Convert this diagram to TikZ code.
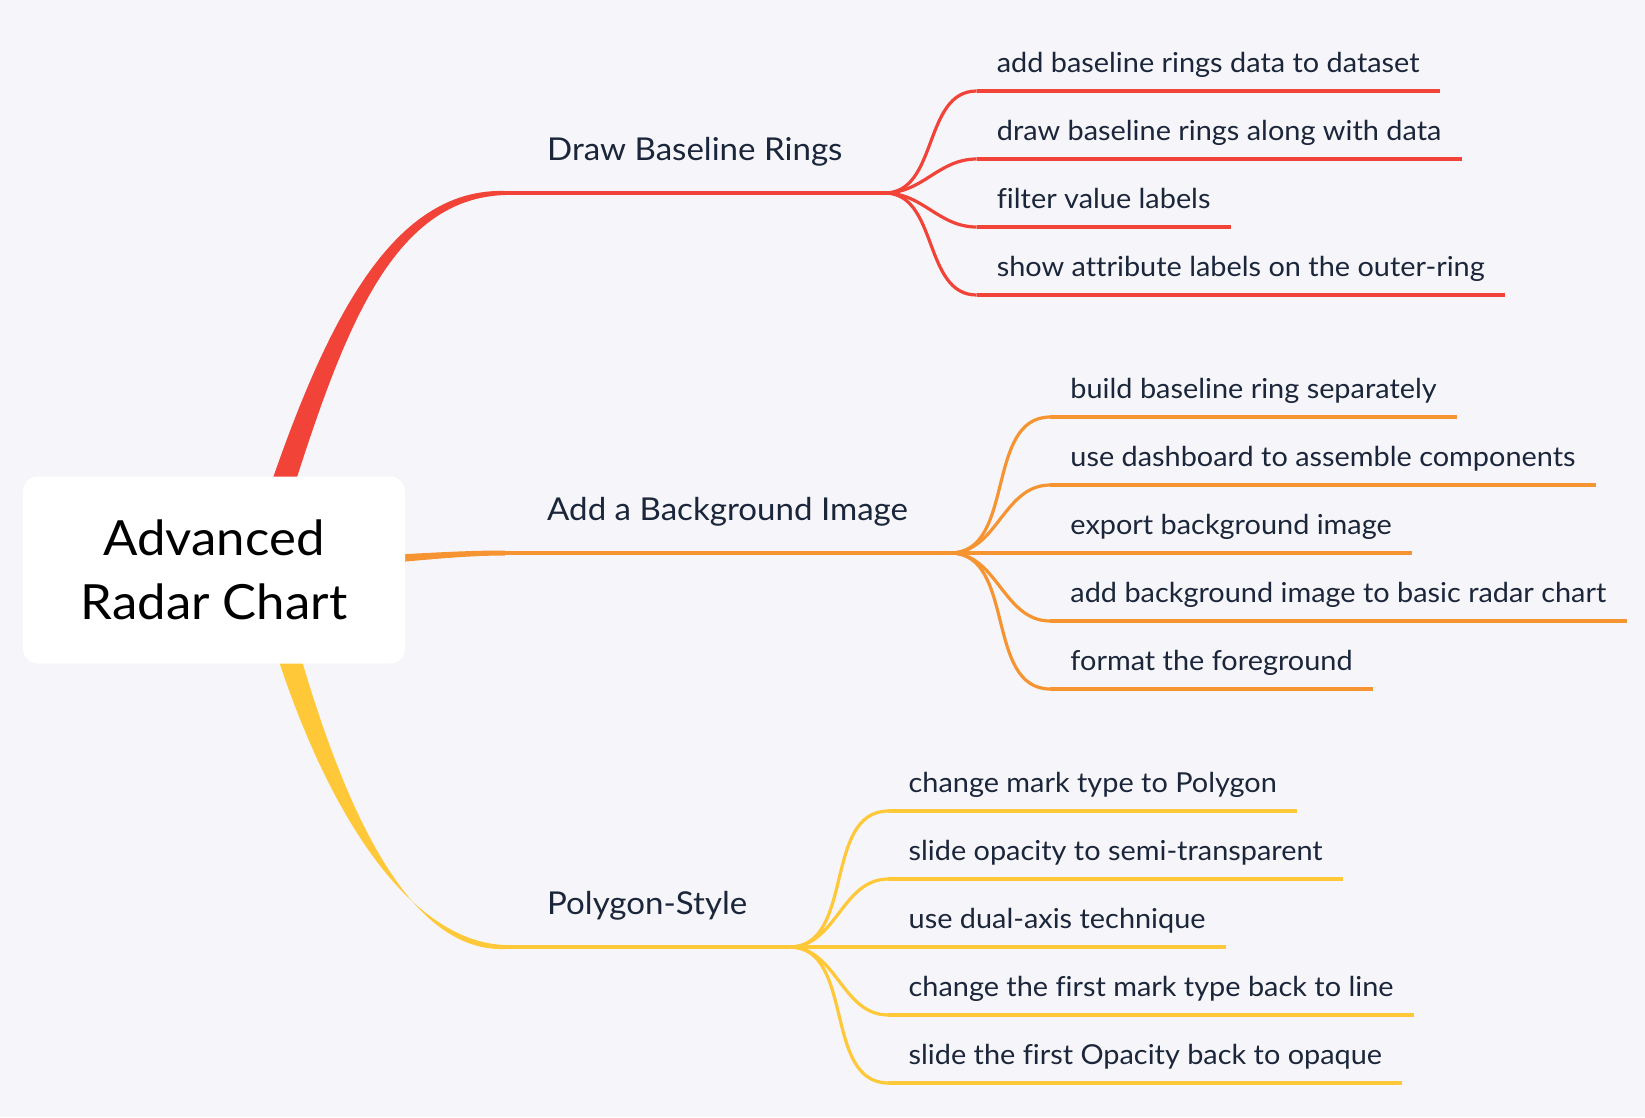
\documentclass[tikz,border=0pt]{standalone}
\usepackage{fontspec}
\setmainfont{Lato}[FakeStretch=1.05, Ligatures=NoCommon]
\usepackage{tikz}
\usetikzlibrary{positioning, calc}

\definecolor{paper}{HTML}{F6F6FA}
\definecolor{ink}{HTML}{1B263B}
\definecolor{redB}{HTML}{F14338}
\definecolor{orangeB}{HTML}{F79432}
\definecolor{yellowB}{HTML}{FFC838}

\begin{document}
\begin{tikzpicture}[x=1pt, y=-1pt]
	\tikzstyle{root} = [fill=white, rounded corners=15pt, minimum width=382pt, minimum height=187pt, align=center, text=black, font={\fontsize{48.5}{64}\selectfont}];
	\tikzstyle{branch} = [anchor=south west, inner xsep=42pt, inner ysep=0pt, text depth=32pt, text=ink, font={\fontsize{31.5}{36}\selectfont}];
	\tikzstyle{leaf} = [anchor=south west, inner xsep=20pt, inner ysep=0pt, text depth=18pt, text=ink, font={\fontsize{27.5}{30}\selectfont}];
	\tikzstyle{twig} = [line width=3.2pt];

	\fill[paper] (0,0) rectangle (1645,1117);
	\useasboundingbox (0,0) rectangle (1645,1117);

	% main branches
	\node[branch] (b1) at (505,193) {Draw Baseline Rings};
	\node[branch] (b2) at (505,553) {Add a Background Image};
	\node[branch] (b3) at (505,947) {Polygon-Style};
	\draw[twig, redB] (b1.south west) -- (b1.south east);
	\draw[twig, orangeB] (b2.south west) -- (b2.south east);
	\draw[twig, yellowB] (b3.south west) -- (b3.south east);

	% tapered stems from the root
	\coordinate (r0) at (255,570);
	\coordinate (r1) at (319,370);
	\coordinate (r2) at (375,193);
	\fill[redB] ($(r0)+(-11.4,-3.6)$) .. controls ($(r1)+(-11.4,-3.6)$) and ($(r2)+(0,-6)$) .. ($(b1.south west)+(0,-2)$)
		-- ($(b1.south west)+(0,2)$) .. controls ($(r2)+(0,6)$) and ($(r1)+(11.4,3.6)$) .. ($(r0)+(11.4,3.6)$) -- cycle;

	\coordinate (o0) at (260,566);
	\coordinate (o1) at (380,562);
	\coordinate (o2) at (440,553);
	\fill[orangeB] ($(o0)+(0,-5)$) .. controls ($(o1)+(0,-5)$) and ($(o2)+(0,-2.5)$) .. ($(b2.south west)+(0,-2.5)$)
		-- ($(b2.south west)+(0,2.5)$) .. controls ($(o2)+(0,2.5)$) and ($(o1)+(0,5)$) .. ($(o0)+(0,5)$) -- cycle;

	\coordinate (y0) at (265,570);
	\coordinate (y1) at (315,770);
	\coordinate (y2) at (395,947);
	\fill[yellowB] ($(y0)+(-11.6,2.9)$) .. controls ($(y1)+(-11.6,2.9)$) and ($(y2)+(0,-6)$) .. ($(b3.south west)+(0,-2)$)
		-- ($(b3.south west)+(0,2)$) .. controls ($(y2)+(0,6)$) and ($(y1)+(11.6,-2.9)$) .. ($(y0)+(11.6,-2.9)$) -- cycle;

	\node[root] (root) at (214,570) {Advanced\\Radar Chart};

	% leaves
	\def \redleaves {add baseline rings data to dataset, draw baseline rings along with data, filter value labels, show attribute labels on the outer-ring}
	\def \orangeleaves {build baseline ring separately, use dashboard to assemble components, export background image, add background image to basic radar chart, format the foreground}
	\def \yellowleaves {change mark type to Polygon, slide opacity to semi-transparent, use dual-axis technique, change the first mark type back to line, slide the first Opacity back to opaque}

	\foreach \x [count=\xi] in \redleaves {
		\node[leaf] (r\xi) at ($(b1.south east)+(92,{68*\xi-170})$) {\x};
		\draw[twig, redB] (r\xi.south west) -- (r\xi.south east);
		\draw[twig, redB] (b1.south east) to[out=0, in=180] (r\xi.south west);
	}

	\foreach \x [count=\xi] in \orangeleaves {
		\node[leaf] (o\xi) at ($(b2.south east)+(100,{68*\xi-204})$) {\x};
		\draw[twig, orangeB] (o\xi.south west) -- (o\xi.south east);
		\draw[twig, orangeB] (b2.south east) to[out=0, in=180] (o\xi.south west);
	}

	\foreach \x [count=\xi] in \yellowleaves {
		\node[leaf] (y\xi) at ($(b3.south east)+(99,{68*\xi-204})$) {\x};
		\draw[twig, yellowB] (y\xi.south west) -- (y\xi.south east);
		\draw[twig, yellowB] (b3.south east) to[out=0, in=180] (y\xi.south west);
	}
\end{tikzpicture}
\end{document}
